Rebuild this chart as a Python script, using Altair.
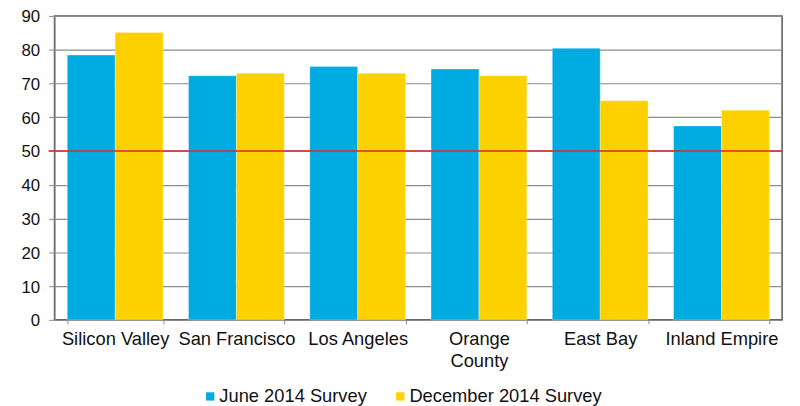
import altair as alt
import pandas as pd

regions = ["Silicon Valley", "San Francisco", "Los Angeles", "Orange County", "East Bay", "Inland Empire"]
series = ["June 2014 Survey", "December 2014 Survey"]
june = [78.4, 72.3, 75.0, 74.3, 80.4, 57.4]
december = [85.1, 73.0, 73.0, 72.3, 64.9, 62.1]
threshold = [50]
colors = ["#00ABE1", "#FDD100"]
y_ticks = [0, 10, 20, 30, 40, 50, 60, 70, 80, 90]

rows = []
for r, j, d in zip(regions, june, december):
    rows.append({"region": r, "series": series[0], "value": j})
    rows.append({"region": r, "series": series[1], "value": d})
df = pd.DataFrame(rows)

FONT = "Liberation Sans"

y_axis = alt.Axis(values=y_ticks, labelFontSize=17, labelFont=FONT, title=None,
                  labelColor="#111", domainColor="#8a8a8a", tickColor="#8a8a8a",
                  tickSize=6, labelPadding=9, labelOverlap=False, labelOffset=1,
                  gridColor="#8c8c8c", gridWidth=1.2)
y_scale = alt.Scale(domain=[0, 90], nice=False)

bars = alt.Chart(df).mark_bar(stroke="white", strokeWidth=0.5, strokeOpacity=0.6).encode(
    x=alt.X("region:N", sort=regions, title=None,
            scale=alt.Scale(paddingInner=0.21, paddingOuter=0.105),
            axis=alt.Axis(labelAngle=0, tickBand="extent", labelFontSize=18.5, labelFont=FONT,
                          labelColor="#111", domainColor="#8a8a8a", tickColor="#8a8a8a",
                          tickSize=4, labelPadding=6, labelLineHeight=22, grid=False,
                          labelLimit=0,
                          labelExpr="datum.value == 'Orange County' ? ['Orange', 'County'] : datum.value")),
    xOffset=alt.XOffset("series:N", sort=series),
    y=alt.Y("value:Q", title=None, scale=y_scale, axis=y_axis),
    color=alt.Color("series:N", sort=series,
                    scale=alt.Scale(domain=series, range=colors),
                    legend=alt.Legend(title=None, orient="none", direction="horizontal",
                                      legendX=148, legendY=375, padding=0,
                                      symbolType="square", symbolSize=70, symbolStrokeWidth=0,
                                      labelFontSize=18.5, labelFont=FONT, labelColor="#111",
                                      labelLimit=0, labelOffset=0, columnPadding=24)),
)

rule_df = pd.DataFrame({"value": threshold})
rule = alt.Chart(rule_df).mark_rule(color="#D42A35", strokeWidth=1.5).encode(
    y=alt.Y("value:Q", title=None, scale=y_scale, axis=y_axis),
    x=alt.value(-6), x2=alt.value(735)
)

chart = alt.layer(bars, rule).properties(
    width=735, height=307,
    autosize=alt.AutoSizeParams(type="none"),
    padding={"left": 47, "top": 6, "right": 10, "bottom": 85},
).configure_view(stroke="#555", strokeWidth=1.5)

chart.save("out.html", embed_options={"renderer": "svg", "actions": False})
